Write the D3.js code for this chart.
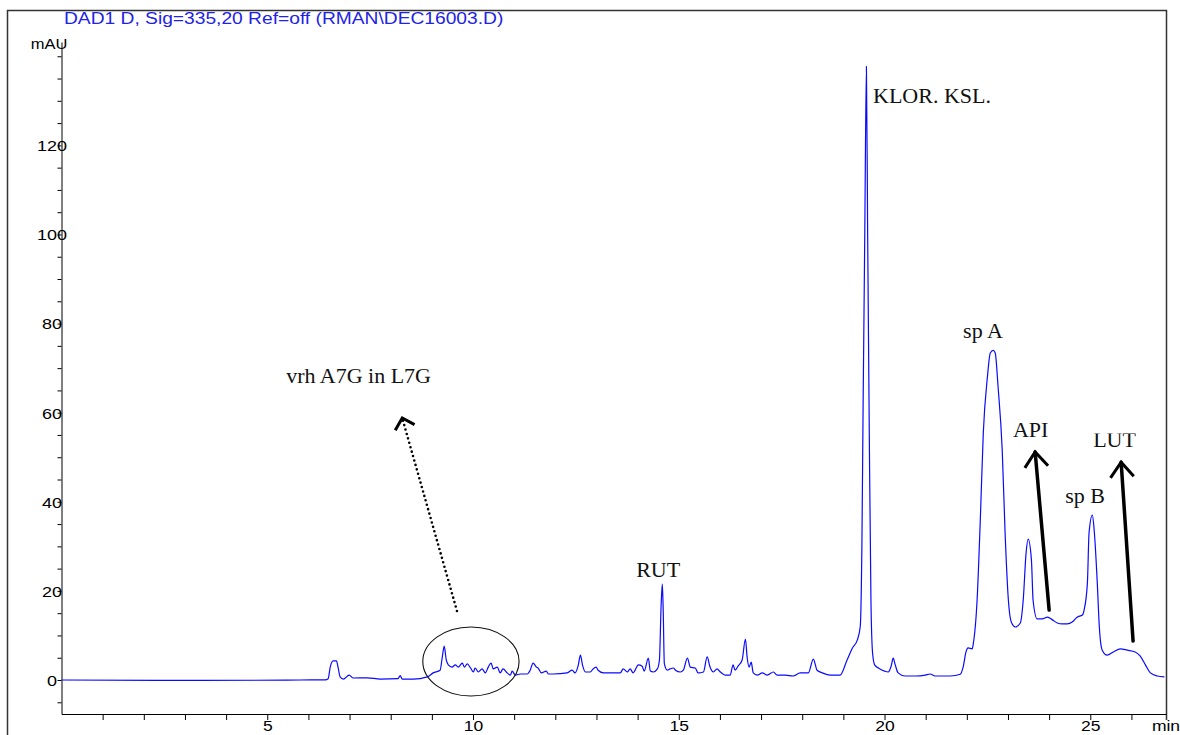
<!DOCTYPE html>
<html>
<head>
<meta charset="utf-8">
<script src="https://cdn.jsdelivr.net/npm/d3@7"></script>
<style>
body { margin: 0; background: #fff; }
svg { display: block; }
</style>
</head>
<body>
<svg id="chart" width="1180" height="735"></svg>
<script>
// retention time (min)
var timeMin = [
  0, 3.37, 5.80, 6.41, 6.48, 6.53, 6.60, 6.68, 6.72, 6.77, 6.85, 6.99, 7.09, 7.43, 7.75, 8.18, 8.23, 8.28, 8.55, 8.89,
  9.03, 9.20, 9.25, 9.30, 9.35, 9.40, 9.49, 9.57, 9.64, 9.74, 9.79, 9.86, 9.94, 10.01, 10.05, 10.13, 10.22, 10.30, 10.37, 10.44,
  10.49, 10.59, 10.66, 10.73, 10.83, 10.91, 10.95, 11.03, 11.15, 11.32, 11.39, 11.46, 11.54, 11.58, 11.66, 11.78, 11.83, 11.95, 12.29, 12.41,
  12.48, 12.56, 12.61, 12.66, 12.73, 12.85, 12.92, 12.99, 13.04, 13.17, 13.33, 13.58, 13.65, 13.75, 13.82, 13.89, 14.02, 14.11, 14.16, 14.26,
  14.31, 14.38, 14.48, 14.53, 14.57, 14.60, 14.62, 14.65, 14.72, 14.79, 14.87, 14.92, 15.04, 15.11, 15.21, 15.28, 15.40, 15.47, 15.60, 15.69,
  15.76, 15.84, 15.93, 16.01, 16.13, 16.25, 16.32, 16.37, 16.44, 16.54, 16.62, 16.66, 16.71, 16.76, 16.81, 16.91, 17.03, 17.15, 17.30, 17.39,
  17.59, 17.78, 17.95, 18.15, 18.27, 18.36, 18.49, 18.68, 18.92, 19.09, 19.22, 19.34, 19.41, 19.45, 19.48, 19.52, 19.56, 19.59, 19.63, 19.67,
  19.71, 19.76, 19.85, 20.00, 20.09, 20.16, 20.21, 20.26, 20.33, 20.50, 20.75, 20.99, 21.11, 21.23, 21.60, 21.84, 21.91, 21.98, 22.03, 22.13,
  22.16, 22.25, 22.33, 22.40, 22.50, 22.57, 22.64, 22.69, 22.76, 22.86, 22.93, 23.01, 23.08, 23.18, 23.30, 23.37, 23.44, 23.49, 23.57, 23.61,
  23.71, 23.83, 23.96, 24.08, 24.20, 24.32, 24.44, 24.56, 24.68, 24.81, 24.85, 24.93, 24.97, 25.05, 25.10, 25.17, 25.22, 25.29, 25.41, 25.56,
  25.73, 25.90, 26.09, 26.21, 26.34, 26.46, 26.63, 26.80
];

// absorbance (mAU) at each of those times
var signalMAU = [
  0, -0.1, 0, 0.05, 0.3, 2.9, 4.3, 4.3, 2.9, 0.7, 0.2, 1.1, 0.45, 0.5, 0.2, 0.3, 1.0, 0.2, 0.2, 0.7,
  1.6, 2.2, 4.9, 7.6, 4.5, 3.4, 2.9, 3.4, 2.9, 3.8, 2.9, 3.6, 2.7, 1.8, 2.7, 1.8, 2.5, 1.6, 2.9, 3.8,
  2.5, 2.9, 1.6, 2.5, 1.6, 1.1, 2.0, 1.1, 1.35, 1.35, 2.2, 3.8, 2.9, 2.7, 1.6, 2.0, 1.35, 1.35, 1.6, 2.2,
  1.6, 3.4, 5.6, 3.4, 1.8, 1.8, 2.5, 2.9, 2.2, 1.6, 1.6, 1.6, 2.5, 1.8, 2.5, 1.6, 3.4, 3.1, 2.0, 4.9,
  2.0, 1.8, 2.5, 4.5, 16.4, 21.5, 16.4, 3.6, 2.2, 2.5, 2.7, 2.2, 1.8, 2.2, 4.9, 2.9, 2.7, 1.6, 1.8, 5.2,
  2.9, 1.8, 2.5, 1.8, 1.1, 1.1, 3.4, 2.2, 3.1, 4.5, 9.2, 5.2, 2.9, 4.0, 1.6, 1.1, 1.6, 1.1, 1.8, 1.1,
  1.1, 0.9, 1.6, 1.6, 4.7, 2.2, 1.6, 1.1, 1.1, 4.5, 7.2, 9.0, 12, 30, 62, 100, 137.7, 100, 55, 18,
  6, 3.4, 2.7, 2.0, 1.8, 3.1, 4.9, 3.4, 1.6, 0.9, 0.9, 1.1, 1.35, 0.9, 0.9, 1.3, 2.9, 6.3, 7.2, 7.0,
  8.3, 18, 36.6, 55.4, 68.0, 73.4, 74.0, 73.4, 65.7, 51.6, 33.0, 17.9, 13.0, 11.9, 12.8, 17.9, 28.5, 31.6, 26.9, 17.9,
  13.7, 13.7, 14.1, 13.5, 12.8, 12.6, 12.6, 13.0, 14.1, 14.6, 15.7, 21.8, 33.0, 37.0, 33.0, 21.8, 11.9, 6.7, 5.6, 6.3,
  7.0, 6.7, 6.3, 5.4, 3.4, 1.6, 0.9, 0.7
];

var yLabelTicks = [0, 20, 40, 60, 80, 100, 120];
var xLabelTicks = [5, 10, 15, 20, 25];

// hand-written notes on the printout (position in min / mAU)
var notes = [
  {text: "vrh A7G in L7G", t: 5.46, v: 66.7, anchor: "start"},
  {text: "RUT", t: 14.50, v: 23.1, anchor: "middle"},
  {text: "KLOR. KSL.", t: 19.72, v: 129.4, anchor: "start"},
  {text: "sp A", t: 21.91, v: 76.8, anchor: "start"},
  {text: "API", t: 23.12, v: 54.5, anchor: "start"},
  {text: "sp B", t: 24.39, v: 39.7, anchor: "start"},
  {text: "LUT", t: 25.07, v: 52.3, anchor: "start", clipTop: true}
];
var arrows = [
  {t1: 9.61, v1: 15.5, t2: 8.28, v2: 58.8, dotted: true},
  {t1: 24.00, v1: 15.7, t2: 23.66, v2: 51.2, dotted: false},
  {t1: 26.04, v1: 8.75, t2: 25.75, v2: 48.9, dotted: false}
];

var SANS = "'Liberation Sans', Arial, sans-serif";
var SERIF = "'Liberation Serif', 'Times New Roman', serif";
var STRETCH = 1.2;

var svg = d3.select("#chart");

var x = d3.scaleLinear().domain([0, 26.84]).range([61.5, 1166]);
var y = d3.scaleLinear().domain([-7.63, 143.2]).range([714, 42]);

// widen sans text a bit, the printout is stretched horizontally
function stretch(sel, k) {
    sel.each(function() {
        var w = this.getComputedTextLength();
        if (w > 0) {
            d3.select(this).attr("textLength", w * k).attr("lengthAdjust", "spacingAndGlyphs");
        }
    });
}

// outer frame
svg.append("path")
    .attr("d", "M7.5,735 V10.5 H1166.5 V720")
    .style("fill", "none")
    .style("stroke", "#333")
    .style("stroke-width", 1.5);

// title
svg.append("text")
    .attr("x", 64)
    .attr("y", 24)
    .style("font-family", SANS)
    .style("font-size", "16px")
    .style("fill", "#2222e6")
    .text("DAD1 D, Sig=335,20 Ref=off (RMAN\\DEC16003.D)")
    .call(stretch, STRETCH);

// y axis
var yAxis = d3.axisLeft(y)
    .tickValues(d3.range(-5, 141, 5))
    .tickSize(4)
    .tickSizeOuter(0)
    .tickFormat(function(d) { return yLabelTicks.indexOf(d) >= 0 ? d : ""; });

var gy = svg.append("g")
    .attr("transform", "translate(61.5,0)")
    .call(yAxis);
gy.select(".domain").style("stroke", "#000");
gy.selectAll(".tick line").style("stroke", "#000");
gy.selectAll(".tick text")
    .attr("x", -9.5)
    .attr("dy", "0.36em")
    .attr("text-anchor", "middle")
    .style("font-family", SANS)
    .style("font-size", "15px")
    .style("fill", "#000")
    .call(stretch, STRETCH);

svg.append("text")
    .attr("x", 49)
    .attr("y", 49)
    .attr("text-anchor", "middle")
    .style("font-family", SANS)
    .style("font-size", "15px")
    .text("mAU")
    .call(stretch, 1.1);

// x axis
var xAxis = d3.axisBottom(x)
    .tickValues(d3.range(1, 27))
    .tickSize(6)
    .tickPadding(1)
    .tickSizeOuter(0)
    .tickFormat(function(d) { return xLabelTicks.indexOf(d) >= 0 ? d : ""; });

var gx = svg.append("g")
    .attr("transform", "translate(0,714)")
    .call(xAxis);
gx.select(".domain").style("stroke", "#000");
gx.selectAll(".tick line").style("stroke", "#000");
gx.selectAll(".tick text")
    .style("font-family", SANS)
    .style("font-size", "14px")
    .style("fill", "#000")
    .call(stretch, 1.25);

svg.append("text")
    .attr("x", x(26.84))
    .attr("y", 714 + 7)
    .attr("dy", "0.71em")
    .attr("text-anchor", "middle")
    .style("font-family", SANS)
    .style("font-size", "14px")
    .text("min")
    .call(stretch, 1.25);

// chromatogram trace
var trace = d3.zip(timeMin, signalMAU);
var line = d3.line()
    .x(function(d) { return x(d[0]); })
    .y(function(d) { return y(d[1]); })
    .curve(d3.curveMonotoneX);

svg.append("path")
    .datum(trace)
    .attr("class", "trace")
    .attr("d", line)
    .style("fill", "none")
    .style("stroke", "#0a0aff")
    .style("stroke-width", 1.2);

// ellipse round the small peaks
svg.append("ellipse")
    .attr("cx", x(9.95))
    .attr("cy", y(4.15))
    .attr("rx", x(9.95 + 1.17) - x(9.95))
    .attr("ry", y(4.15 - 7.74) - y(4.15))
    .style("fill", "none")
    .style("stroke", "#111")
    .style("stroke-width", 1.1);

// arrows
var gArrows = svg.append("g").attr("class", "arrows");
arrows.forEach(function(a) {
    var xa = x(a.t1), ya = y(a.v1), xb = x(a.t2), yb = y(a.v2);
    var ang = Math.atan2(ya - yb, xa - xb);
    var headLen = a.dotted ? 14 : 19;
    var spread = a.dotted ? 0.8 : 0.66;
    gArrows.append("line")
        .attr("x1", xa).attr("y1", ya)
        .attr("x2", xb).attr("y2", yb)
        .style("stroke", "#000")
        .style("stroke-width", a.dotted ? 2.6 : 3.5)
        .style("stroke-linecap", "round")
        .style("stroke-dasharray", a.dotted ? "0,4.6" : null);
    var p1 = [xb + headLen * Math.cos(ang - spread), yb + headLen * Math.sin(ang - spread)];
    var p2 = [xb + headLen * Math.cos(ang + spread), yb + headLen * Math.sin(ang + spread)];
    gArrows.append("path")
        .attr("d", "M" + p1 + "L" + xb + "," + yb + "L" + p2)
        .style("fill", "none")
        .style("stroke", "#000")
        .style("stroke-width", 3)
        .style("stroke-linejoin", "miter");
});

// labels (LUT is slightly cut at the top on the printout)
svg.append("defs").append("clipPath")
    .attr("id", "clipTop")
    .append("rect")
    .attr("x", 0).attr("width", 1180)
    .attr("y", y(52.3) - 13.6).attr("height", 40);

svg.append("g").selectAll("text")
    .data(notes)
    .join("text")
    .attr("x", function(d) { return x(d.t); })
    .attr("y", function(d) { return y(d.v); })
    .attr("text-anchor", function(d) { return d.anchor; })
    .attr("clip-path", function(d) { return d.clipTop ? "url(#clipTop)" : null; })
    .style("font-family", SERIF)
    .style("font-size", "22px")
    .style("fill", "#111")
    .text(function(d) { return d.text; });
</script>
</body>
</html>
